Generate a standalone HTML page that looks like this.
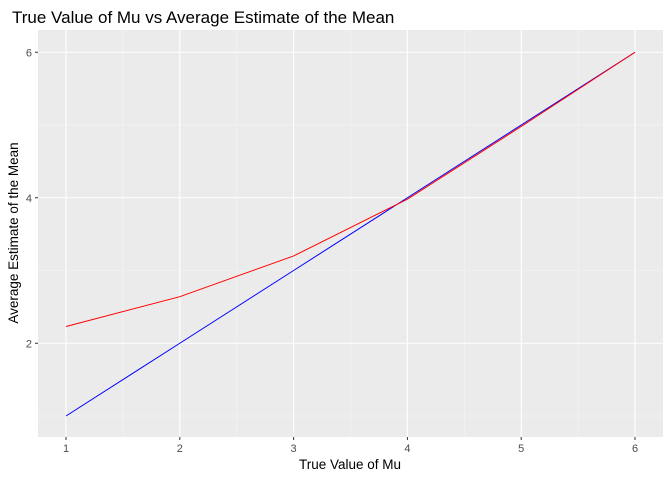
<!DOCTYPE html>
<html><head><meta charset="utf-8"><style>
body{margin:0;background:#fff;font-family:"Liberation Sans",sans-serif;}
</style></head><body>
<svg id="c" width="672" height="480" xmlns="http://www.w3.org/2000/svg">
<text x="12" y="23" font-size="17" fill="#000">True Value of Mu vs Average Estimate of the Mean</text>
<rect x="38" y="30" width="625" height="407" fill="#ebebeb"/>
<g id="grid"></g>
<g id="series"></g>
<g id="ticks"></g>
<text x="350" y="469" font-size="13.5" text-anchor="middle" fill="#000">True Value of Mu</text>
<text transform="translate(18,233) rotate(-90)" font-size="13.5" text-anchor="middle" fill="#000">Average Estimate of the Mean</text>
</svg>
<script>
const mu = [1, 2, 3, 4, 5, 6];
const avgEstimate = [2.23, 2.64, 3.2, 3.98, 4.98, 6.0];
const trueLine = [1, 2, 3, 4, 5, 6];
const xTicks = [1, 2, 3, 4, 5, 6];
const yTicks = [2, 4, 6];
const NS = "http://www.w3.org/2000/svg";
function sx(v){ return 66 + (v - 1) * 113.8; }
function sy(v){ return 416 - (v - 1) * 72.75; }
function mk(tag, attrs, parent){
  const e = document.createElementNS(NS, tag);
  for (const k in attrs) e.setAttribute(k, attrs[k]);
  parent.appendChild(e); return e;
}
const grid = document.getElementById('grid');
const ticks = document.getElementById('ticks');
const series = document.getElementById('series');
// minor grid
for (let v = 0.5; v <= 6.5; v += 1) {
  const x = sx(v);
  if (x > 38 && x < 663) {
    const l = mk('line', {x1:x, x2:x, y1:30, y2:437, stroke:'#f5f5f5', 'stroke-width':0.6}, grid);
    
    
  }
}
for (let v = 1; v <= 7; v += 2) {
  const y = sy(v);
  if (y > 30 && y < 437) {
    const l = mk('line', {x1:38, x2:663, y1:y, y2:y, stroke:'#f5f5f5', 'stroke-width':0.6}, grid);
    
    
  }
}
xTicks.forEach(v => {
  const x = sx(v);
  const l = mk('line', {x1:x, x2:x, y1:30, y2:437, stroke:'#fff', 'stroke-width':1.1}, grid);
  
  
  const t = mk('line', {x1:x, x2:x, y1:437, y2:440, stroke:'#333'}, ticks);
  
  
  const tx = mk('text', {x:x, y:452, 'font-size':11, 'text-anchor':'middle', fill:'#4d4d4d'}, ticks);
  tx.textContent = v;
  
  
});
yTicks.forEach(v => {
  const y = sy(v);
  const l = mk('line', {x1:38, x2:663, y1:y, y2:y, stroke:'#fff', 'stroke-width':1.1}, grid);
  
  
  const t = mk('line', {x1:35, x2:38, y1:y, y2:y, stroke:'#333'}, ticks);
  
  
  const tx = mk('text', {x:32, y:y+4, 'font-size':11, 'text-anchor':'end', fill:'#4d4d4d'}, ticks);
  tx.textContent = v;
  
  
});
const blue = mk('polyline', {points: mu.map((m,i)=>sx(m)+','+sy(trueLine[i])).join(' '), fill:'none', stroke:'#0000ff', 'stroke-width':1}, series);


const red = mk('polyline', {points: mu.map((m,i)=>sx(m)+','+sy(avgEstimate[i])).join(' '), fill:'none', stroke:'#ff0000', 'stroke-width':1}, series);


</script>
</body></html>
